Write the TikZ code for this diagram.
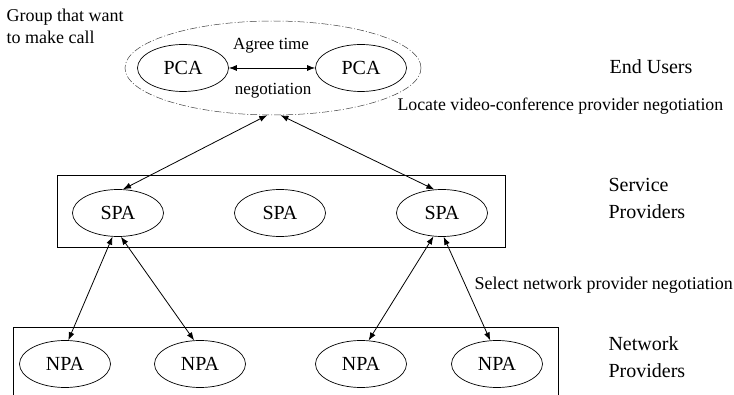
\documentclass[tikz,border=0pt]{standalone}
\usepackage{fontspec}
\setmainfont{Liberation Serif}
\usepackage{tikz}
\usetikzlibrary{arrows.meta}
\tikzset{>={Latex[length=8pt,width=6pt]}}
\usetikzlibrary{shapes.geometric}
\usetikzlibrary{calc}

\tikzset{
    agent/.style={draw, ellipse, line width=0.7pt, inner sep=0pt, minimum width=91pt, minimum height=47pt, font=\fontsize{20}{22}\selectfont},
    layerlbl/.style={anchor=west, align=left, font=\fontsize{20}{27}\selectfont},
    negolbl/.style={font=\fontsize{17}{20}\selectfont},
    link/.style={<->, line width=0.8pt},
}

\begin{document}
\begin{tikzpicture}[x=1pt, y=-1pt]
    \useasboundingbox (0,0) rectangle (734,395);
    \clip (0,0) rectangle (734,395);

    \def\rowU{68}
    \def\rowS{213}
    \def\rowN{364}

    % group of end users
    \node[draw=black!75, ellipse, line width=0.5pt, dash pattern=on 7pt off 2pt on 1pt off 2pt, minimum width=296pt, minimum height=94pt] (grp) at (273,\rowU) {};
    \node[agent] (pcaA) at (183,\rowU) {PCA};
    \node[agent] (pcaB) at (361,\rowU) {PCA};
    \draw[link] (pcaA) -- (pcaB);
    \node[negolbl] at (271,46) {Agree time};
    \node[negolbl] at (273,91) {negotiation};

    % service providers
    \draw[line width=0.8pt] (57,175) rectangle (505,247);
    \node[agent] (spaA) at (118,\rowS) {SPA};
    \node[agent] (spaB) at (280,\rowS) {SPA};
    \node[agent] (spaC) at (442,\rowS) {SPA};

    % network providers
    \draw[line width=0.8pt] (13,327) rectangle (558,420);
    \node[agent] (npaA) at (65,\rowN) {NPA};
    \node[agent] (npaB) at (200,\rowN) {NPA};
    \node[agent] (npaC) at (361,\rowN) {NPA};
    \node[agent] (npaD) at (497,\rowN) {NPA};

    \draw[link] (spaA.78) -- (grp.263);
    \draw[link] (spaC.108) -- (grp.279);

    \draw[link] (spaA.257) -- (npaA.82);
    \draw[link] (spaA.277) -- (npaB.104);
    \draw[link] (spaC.250) -- (npaC.72);
    \draw[link] (spaC.274) -- (npaD.106);

    % Labels
    \node[anchor=north west, align=left, font=\fontsize{18}{22}\selectfont] at (3,5) {Group that want\\to make call};
    \node[anchor=center, font=\fontsize{20}{22}\selectfont] at (651,67) {End Users};
    \node[negolbl, anchor=west, font=\fontsize{17.8}{20}\selectfont] at (394,106) {Locate video-conference provider negotiation};
    \node[layerlbl] at (605,198) {Service\\Providers};
    \node[layerlbl] at (605,357) {Network\\Providers};
    \node[negolbl, anchor=west, font=\fontsize{18}{20}\selectfont] at (471,285) {Select network provider negotiation};
\end{tikzpicture}
\end{document}
